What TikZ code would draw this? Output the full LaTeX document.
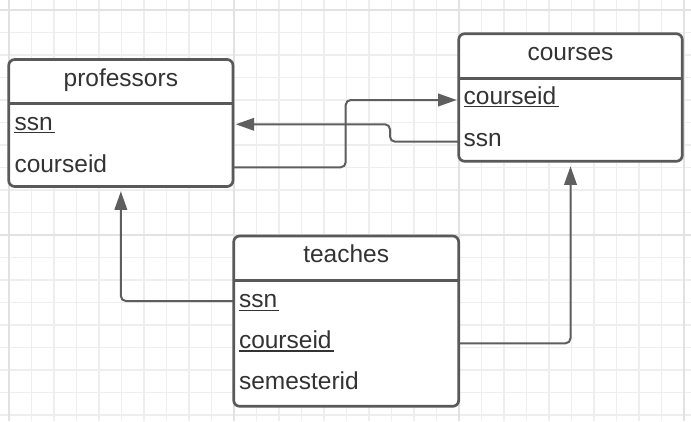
\documentclass[tikz,border=0pt]{standalone}
\usepackage{fontspec}
\setmainfont{Liberation Sans}
\usetikzlibrary{arrows.meta,backgrounds}

\definecolor{gridminor}{HTML}{EEEEEE}
\definecolor{gridmajor}{HTML}{E2E2E2}
\definecolor{boxline}{HTML}{595959}
\definecolor{wireline}{HTML}{5E5E5E}
\definecolor{textcol}{HTML}{333333}

\begin{document}
\begin{tikzpicture}[x=1pt,y=-1pt,
  font=\fontsize{24.5}{28}\selectfont,
  entity/.style={draw=boxline, fill=white, line width=2.7pt, rounded corners=6pt,
                 outer sep=0pt, inner sep=0pt, anchor=north west},
  divider/.style={draw=boxline, line width=2.7pt},
  title/.style={anchor=base, inner sep=0pt, text=textcol},
  field/.style={anchor=base west, inner sep=0pt, text=textcol},
  keyline/.style={draw=textcol, line width=1.3pt},
  wire/.style={draw=wireline, line width=2pt, rounded corners=5pt,
               -{Triangle[length=18.5pt,width=12.5pt]}},
]
% page size
\useasboundingbox (0,0) rectangle (691,421);

% table frames
\node[entity, minimum width=224.3pt, minimum height=127pt] (prof) at (8.7,59.5) {};
\node[entity, minimum width=223.6pt, minimum height=127.6pt] (courses) at (458.7,33.7) {};
\node[entity, minimum width=225pt, minimum height=170.3pt] (teaches) at (233.7,236) {};

% header dividers
\draw[divider] (prof.west |- 0,103.3) -- (prof.east |- 0,103.3);
\draw[divider] (courses.west |- 0,78.7) -- (courses.east |- 0,78.7);
\draw[divider] (teaches.west |- 0,280.7) -- (teaches.east |- 0,280.7);

% titles
\node[title] (prof-title) at (120.85,86) {professors};
\node[title] (courses-title) at (570.5,60) {courses};
\node[title] (teaches-title) at (346.2,262.3) {teaches};

% fields
\node[field] (p-ssn) at (14.3,130) {ssn};
\node[field] (p-cid) at (14.3,172) {courseid};
\node[field] (c-cid) at (463.5,104) {courseid};
\node[field] (c-ssn) at (463.5,146) {ssn};
\node[field] (t-ssn) at (238.8,307.7) {ssn};
\node[field] (t-cid) at (238.8,348.3) {courseid};
\node[field] (t-sem) at (238.8,389.3) {semesterid};

% key underlines
\foreach \k in {p-ssn, c-cid, t-ssn, t-cid} {
  \draw[keyline] ([yshift=-2.8pt]\k.base west) -- ([xshift=2pt,yshift=-2.8pt]\k.base east);
}

\begin{pgfonlayer}{background}
  % paper and grid
  \fill[white] (0,0) rectangle (691,421);
  \foreach \i in {0,...,30} {
    \draw[gridminor, line width=1.1pt] (9+22.5*\i,0) -- (9+22.5*\i,421);
  }
  \foreach \j in {0,...,18} {
    \draw[gridminor, line width=1.1pt] (0,10+22.5*\j) -- (691,10+22.5*\j);
  }
  \foreach \i in {0,...,3} {
    \draw[gridmajor, line width=1.5pt] (9+225*\i,0) -- (9+225*\i,421);
  }
  \foreach \j in {0,1} {
    \draw[gridmajor, line width=1.5pt] (0,10+225*\j) -- (691,10+225*\j);
  }

  % foreign-key connectors, tucked under the frames
  \draw[wire, shorten >=2.7pt] (courses.west |- 0,141.7) -- (390,141.7) -- (390,124.3) -- (prof.east |- 0,124.3);
  \draw[wire, shorten >=2pt] (prof.east |- 0,167.3) -- (345.7,167.3) -- (345.7,100) -- (courses.west |- 0,100);
  \draw[wire, shorten >=4.8pt] (teaches.west |- 0,301) -| (prof.south);
  \draw[wire, shorten >=5pt] (teaches.east |- 0,343.3) -| (courses.south);
\end{pgfonlayer}
\end{tikzpicture}
\end{document}
